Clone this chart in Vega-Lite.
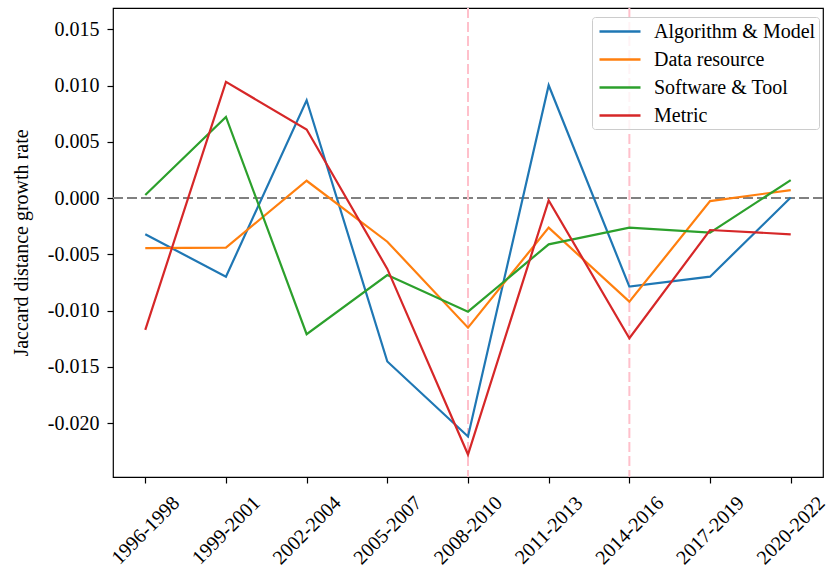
{
  "$schema": "https://vega.github.io/schema/vega-lite/v6.json",
  "width": 710,
  "height": 469,
  "autosize": {"type": "none"},
  "padding": {"left": 113, "top": 8, "right": 3, "bottom": 95},
  "background": "white",
  "config": {
    "font": "Liberation Serif",
    "view": {"stroke": "black", "strokeWidth": 1.2},
    "axis": {"labelFont": "Liberation Serif", "titleFont": "Liberation Serif", "labelColor": "black", "titleColor": "black", "domain": false, "tickColor": "black", "tickWidth": 1.2, "grid": false},
    "legend": {"labelFont": "Liberation Serif"}
  },
  "data": {"values": [
    {"period": "1996-1998", "series": "Algorithm & Model", "value": -0.00322},
    {"period": "1999-2001", "series": "Algorithm & Model", "value": -0.00699},
    {"period": "2002-2004", "series": "Algorithm & Model", "value": 0.0087},
    {"period": "2005-2007", "series": "Algorithm & Model", "value": -0.01453},
    {"period": "2008-2010", "series": "Algorithm & Model", "value": -0.0212},
    {"period": "2011-2013", "series": "Algorithm & Model", "value": 0.01003},
    {"period": "2014-2016", "series": "Algorithm & Model", "value": -0.00787},
    {"period": "2017-2019", "series": "Algorithm & Model", "value": -0.00699},
    {"period": "2020-2022", "series": "Algorithm & Model", "value": 0.00005},
    {"period": "1996-1998", "series": "Data resource", "value": -0.00445},
    {"period": "1999-2001", "series": "Data resource", "value": -0.0044},
    {"period": "2002-2004", "series": "Data resource", "value": 0.00154},
    {"period": "2005-2007", "series": "Data resource", "value": -0.00388},
    {"period": "2008-2010", "series": "Data resource", "value": -0.01152},
    {"period": "2011-2013", "series": "Data resource", "value": -0.00263},
    {"period": "2014-2016", "series": "Data resource", "value": -0.00921},
    {"period": "2017-2019", "series": "Data resource", "value": -0.00027},
    {"period": "2020-2022", "series": "Data resource", "value": 0.00071},
    {"period": "1996-1998", "series": "Software & Tool", "value": 0.00027},
    {"period": "1999-2001", "series": "Software & Tool", "value": 0.00722},
    {"period": "2002-2004", "series": "Software & Tool", "value": -0.0121},
    {"period": "2005-2007", "series": "Software & Tool", "value": -0.00684},
    {"period": "2008-2010", "series": "Software & Tool", "value": -0.0101},
    {"period": "2011-2013", "series": "Software & Tool", "value": -0.00411},
    {"period": "2014-2016", "series": "Software & Tool", "value": -0.00263},
    {"period": "2017-2019", "series": "Software & Tool", "value": -0.00308},
    {"period": "2020-2022", "series": "Software & Tool", "value": 0.0016},
    {"period": "1996-1998", "series": "Metric", "value": -0.01172},
    {"period": "1999-2001", "series": "Metric", "value": 0.01033},
    {"period": "2002-2004", "series": "Metric", "value": 0.0061},
    {"period": "2005-2007", "series": "Metric", "value": -0.0063},
    {"period": "2008-2010", "series": "Metric", "value": -0.0228},
    {"period": "2011-2013", "series": "Metric", "value": -0.0002},
    {"period": "2014-2016", "series": "Metric", "value": -0.01246},
    {"period": "2017-2019", "series": "Metric", "value": -0.00284},
    {"period": "2020-2022", "series": "Metric", "value": -0.00322}
  ]},
  "encoding": {
    "x": {
      "field": "period", "type": "ordinal",
      "scale": {"type": "point", "padding": 0.4},
      "axis": {"title": null, "labelAngle": -45, "labelAlign": "center", "labelBaseline": "middle", "labelFontSize": 20, "tickSize": 6, "labelPadding": 47, "labelOverlap": false, "labelBound": false}
    },
    "y": {
      "field": "value", "type": "quantitative",
      "scale": {"domain": [-0.0248, 0.0169], "nice": false, "zero": false},
      "axis": {
        "title": "Jaccard distance growth rate",
        "titleFontSize": 20, "titleFontWeight": "normal",
        "titleX": -92, "titleY": 234.5, "titleAngle": -90, "titleAlign": "center", "titleBaseline": "middle",
        "values": [-0.02, -0.015, -0.01, -0.005, 0, 0.005, 0.01, 0.015],
        "labelExpr": "replace(format(datum.value, '.3f'), '\u2212', '-')",
        "labelFontSize": 20, "tickSize": 6, "labelPadding": 8
      }
    }
  },
  "layer": [
    {
      "mark": {"type": "rule", "color": "#808080", "strokeWidth": 2, "strokeDash": [10, 4]},
      "encoding": {"y": {"datum": 0}, "x": null}
    },
    {
      "mark": {"type": "rule", "color": "#ffc0cb", "strokeWidth": 2, "strokeDash": [10, 4]},
      "data": {"values": [{"period": "2008-2010"}, {"period": "2014-2016"}]},
      "encoding": {"x": {"field": "period", "type": "ordinal"}, "y": null}
    },
    {
      "mark": {"type": "line", "strokeWidth": 2.2},
      "encoding": {
        "color": {
          "field": "series", "type": "nominal",
          "scale": {"domain": ["Algorithm & Model", "Data resource", "Software & Tool", "Metric"], "range": ["#1f77b4", "#ff7f0e", "#2ca02c", "#d62728"]},
          "legend": {
            "title": null, "orient": "none", "legendX": 479, "legendY": 9,
            "symbolType": "M-0.7,0H3.4", "symbolSize": 400, "symbolStrokeWidth": 2.5,
            "labelFontSize": 20, "labelOffset": 36, "labelColor": "black", "labelLimit": 400,
            "padding": 3, "rowPadding": 6,
            "strokeColor": "#cccccc", "fillColor": "rgba(255,255,255,0.8)", "cornerRadius": 3
          }
        }
      }
    }
  ]
}
